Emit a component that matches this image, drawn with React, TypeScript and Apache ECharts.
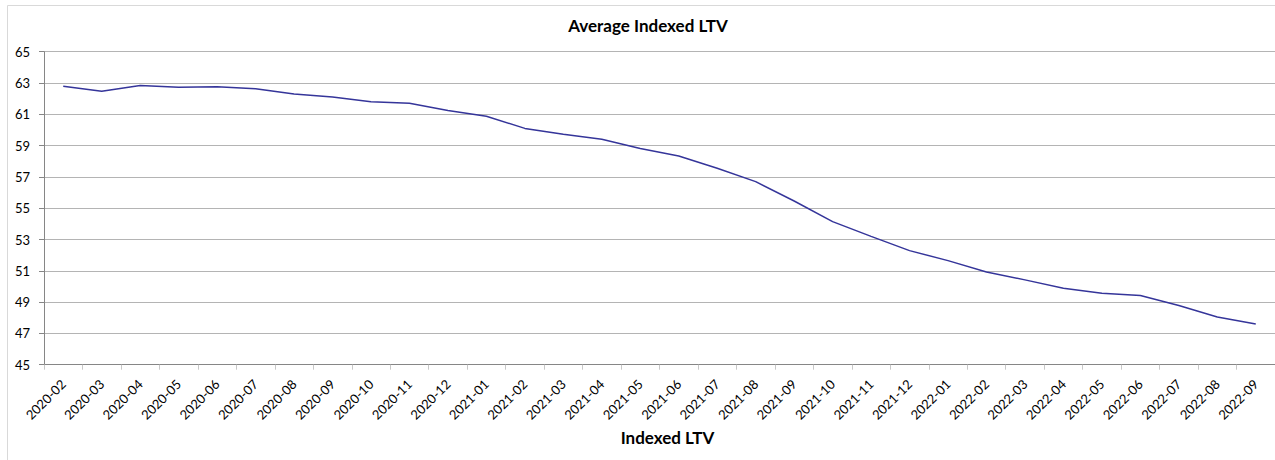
import React, { useEffect, useRef } from "react";
import * as echarts from "echarts";

const months = [
  "2020-02", "2020-03", "2020-04", "2020-05", "2020-06", "2020-07", "2020-08", "2020-09",
  "2020-10", "2020-11", "2020-12", "2021-01", "2021-02", "2021-03", "2021-04", "2021-05",
  "2021-06", "2021-07", "2021-08", "2021-09", "2021-10", "2021-11", "2021-12", "2022-01",
  "2022-02", "2022-03", "2022-04", "2022-05", "2022-06", "2022-07", "2022-08", "2022-09",
];

const avgIndexedLtv = [
  62.79, 62.47, 62.84, 62.73, 62.76, 62.64, 62.30, 62.10,
  61.80, 61.70, 61.25, 60.88, 60.10, 59.72, 59.40, 58.82,
  58.34, 57.55, 56.70, 55.46, 54.14, 53.20, 52.29, 51.65,
  50.92, 50.42, 49.89, 49.56, 49.42, 48.78, 48.05, 47.60,
];

const yMin = 45;
const yMax = 65;
const yStep = 2;

const titleText = "Average Indexed LTV";
const xAxisTitle = "Indexed LTV";

export default function App() {
  const ref = useRef<HTMLDivElement>(null);

  useEffect(() => {
    if (!ref.current) return;
    const chart = echarts.init(ref.current, undefined, { renderer: "svg" });
    const font = "Lato, 'Open Sans', sans-serif";
    chart.setOption({
      animation: false,
      backgroundColor: "#ffffff",
      grid: { left: 44, right: -4.5, top: 51.7, bottom: 95.3, containLabel: false },
      graphic: [
        {
          type: "rect",
          shape: { x: 7.5, y: 5.5, width: 1400, height: 600 },
          style: { fill: "none", stroke: "#d9d9d9", lineWidth: 1 },
          silent: true,
        },
        {
          type: "text",
          x: 648,
          y: 25,
          style: {
            text: titleText,
            textAlign: "center",
            textVerticalAlign: "middle",
            fontFamily: font,
            fontWeight: "bold",
            fontSize: 17,
            fill: "#000000",
          },
        },
      ],
      xAxis: {
        type: "category",
        data: months,
        boundaryGap: true,
        name: xAxisTitle,
        nameLocation: "middle",
        nameGap: 64,
        nameTextStyle: {
          fontFamily: font,
          fontWeight: "bold",
          fontSize: 17,
          color: "#000000",
          padding: [0, 0, 0, 16],
        },
        axisLine: { show: true, lineStyle: { color: "#868686", width: 1 } },
        axisTick: { show: true, alignWithLabel: false, length: 5, lineStyle: { color: "#c8c8c8" } },
        axisLabel: {
          rotate: 45,
          interval: 0,
          margin: 17,
          fontFamily: font,
          fontSize: 13,
          color: "#000000",
        },
        splitLine: { show: false },
      },
      yAxis: {
        type: "value",
        min: yMin,
        max: yMax,
        interval: yStep,
        axisLine: { show: true, lineStyle: { color: "#868686", width: 1 } },
        axisTick: { show: true, length: 5, lineStyle: { color: "#868686" } },
        axisLabel: {
          margin: 14,
          fontFamily: font,
          fontSize: 13,
          color: "#000000",
        },
        splitLine: { show: true, lineStyle: { color: "#b4b4b4", width: 1 } },
      },
      series: [
        {
          type: "line",
          data: avgIndexedLtv,
          symbol: "none",
          lineStyle: { color: "#35359a", width: 1.5 },
          itemStyle: { color: "#35359a" },
        },
      ],
    });
    return () => chart.dispose();
  }, []);

  return (
    <div
      ref={ref}
      style={{ position: "absolute", left: 0, top: 0, width: 1275, height: 460, overflow: "hidden" }}
    />
  );
}
